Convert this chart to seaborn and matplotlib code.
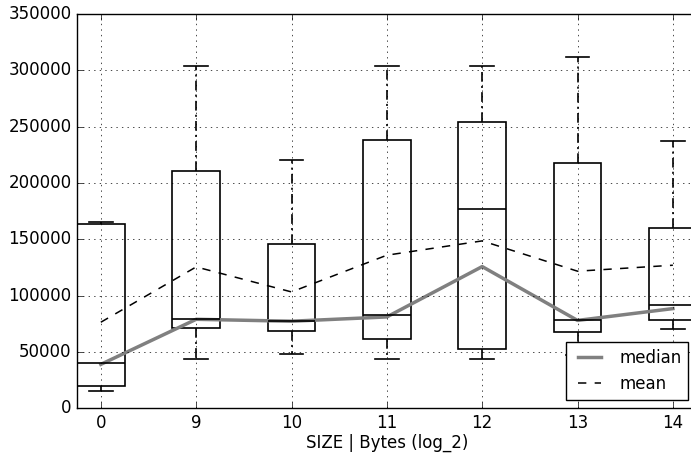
import numpy as np
import pandas as pd
import matplotlib
matplotlib.use("Agg")
import matplotlib.pyplot as plt
import seaborn as sns

# size classes (log_2 bytes)
labels = ["0", "9", "10", "11", "12", "13", "14"]

# box stats
whisk_lo = [15700, 43800, 48600, 44100, 43800, 47100, 70400]
q1 = [20100, 71000, 68400, 61900, 52700, 67300, 78400]
q2 = [40600, 79000, 77300, 83200, 176800, 78400, 92000]
q3 = [164000, 210500, 145400, 238000, 253700, 218000, 160400]
whisk_hi = [165000, 304000, 220300, 304000, 304000, 311800, 237200]

# summary lines
median_line = [39000, 79000, 77300, 81100, 125800, 78000, 88500]
mean_line = [76400, 125500, 103300, 135900, 148600, 121700, 127000]

rows = []
for i, lab in enumerate(labels):
    for v in (whisk_lo[i], q1[i], q2[i], q3[i], whisk_hi[i]):
        rows.append({"size": lab, "value": v})
df = pd.DataFrame(rows)

plt.style.use("classic")
fig = plt.figure(figsize=(6.91, 4.54), dpi=100, facecolor="white")
ax = fig.add_axes([77 / 691, 45.7 / 454, 619.7 / 691, 394.3 / 454])

sns.boxplot(data=df, x="size", y="value", order=labels, ax=ax,
            width=0.5, whis=(0, 100), color="white", linecolor="black",
            linewidth=1.2, showfliers=False, saturation=1,
            whiskerprops={"linestyle": (0, (7, 3, 1.5, 3))})

# caps at half the box width
for line in ax.lines:
    xd = np.asarray(line.get_xdata(), dtype=float)
    yd = np.asarray(line.get_ydata(), dtype=float)
    if len(xd) == 2 and yd[0] == yd[1] and yd[0] in whisk_lo + whisk_hi:
        c = xd.mean()
        line.set_xdata([c - 0.125, c + 0.125])

pos = np.arange(len(labels))
sns.lineplot(x=pos, y=median_line, ax=ax, color="0.5", linewidth=2.5,
             label="median", sort=False)
sns.lineplot(x=pos, y=mean_line, ax=ax, color="black", linewidth=1.1,
             linestyle="--", label="mean", sort=False)

ax.set_xlim(-0.25, 6.25)
ax.set_ylim(0, 350000)
ax.set_yticks(np.arange(0, 350001, 50000))
ax.set_xticks(pos)
ax.set_xticklabels(labels)
ax.set_xlabel("SIZE | Bytes (log_2)", labelpad=1)
ax.set_ylabel("")
ax.grid(True)
ax.legend(loc="lower right", fontsize=12)

fig.savefig("out.png", dpi=100, facecolor="white")
